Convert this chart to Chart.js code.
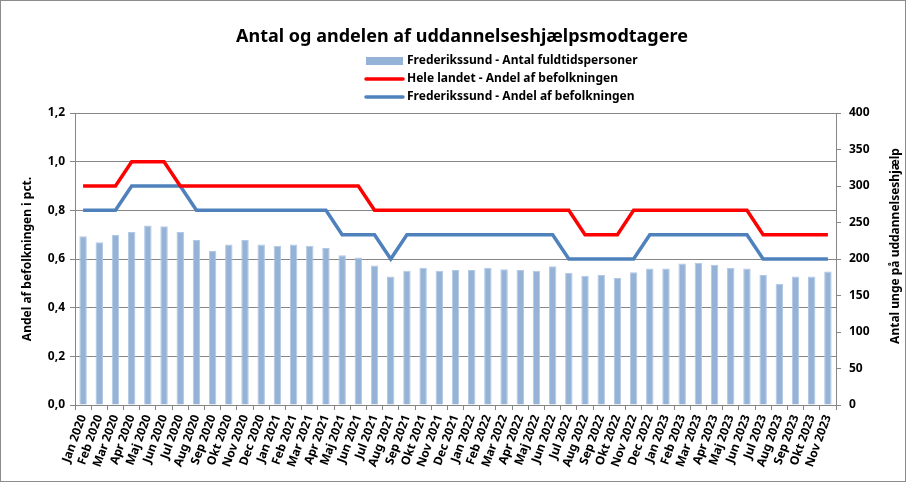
<!DOCTYPE html>
<html>
<head>
    <title>Antal og andelen af uddannelseshjælpsmodtagere</title>
    <meta charset="UTF-8">
    <script src="https://cdn.jsdelivr.net/npm/chart.js"></script>
    <style>
        html, body { margin: 0; padding: 0; background: #fff; }
        #wrap { width: 906px; height: 482px; }
    </style>
</head>
<body>
<div id="wrap"><canvas id="chart"></canvas></div>
<script>
    // månedsetiketter
    var labels = [
        'Jan 2020', 'Feb 2020', 'Mar 2020', 'Apr 2020', 'Maj 2020', 'Jun 2020', 'Jul 2020', 'Aug 2020', 'Sep 2020', 'Okt 2020', 'Nov 2020', 'Dec 2020',
        'Jan 2021', 'Feb 2021', 'Mar 2021', 'Apr 2021', 'Maj 2021', 'Jun 2021', 'Jul 2021', 'Aug 2021', 'Sep 2021', 'Okt 2021', 'Nov 2021', 'Dec 2021',
        'Jan 2022', 'Feb 2022', 'Mar 2022', 'Apr 2022', 'Maj 2022', 'Jun 2022', 'Jul 2022', 'Aug 2022', 'Sep 2022', 'Okt 2022', 'Nov 2022', 'Dec 2022',
        'Jan 2023', 'Feb 2023', 'Mar 2023', 'Apr 2023', 'Maj 2023', 'Jun 2023', 'Jul 2023', 'Aug 2023', 'Sep 2023', 'Okt 2023', 'Nov 2023'
    ];

    // Frederikssund - antal fuldtidspersoner (højre akse)
    var antalFuldtid = [
        231, 223, 233, 237, 246, 245, 237, 226, 211, 220, 226, 220,
        218, 220, 218, 215, 205, 202, 191, 176, 184, 188, 184, 185,
        185, 188, 186, 185, 184, 190, 181, 177, 178, 174, 182, 187,
        187, 194, 195, 192, 188, 187, 178, 166, 176, 176, 183
    ];

    // Hele landet - andel af befolkningen (venstre akse)
    var heleLandet = [
        0.9, 0.9, 0.9, 1.0, 1.0, 1.0, 0.9, 0.9, 0.9, 0.9, 0.9, 0.9,
        0.9, 0.9, 0.9, 0.9, 0.9, 0.9, 0.8, 0.8, 0.8, 0.8, 0.8, 0.8,
        0.8, 0.8, 0.8, 0.8, 0.8, 0.8, 0.8, 0.7, 0.7, 0.7, 0.8, 0.8,
        0.8, 0.8, 0.8, 0.8, 0.8, 0.8, 0.7, 0.7, 0.7, 0.7, 0.7
    ];

    // Frederikssund - andel af befolkningen (venstre akse)
    var frederikssundAndel = [
        0.8, 0.8, 0.8, 0.9, 0.9, 0.9, 0.9, 0.8, 0.8, 0.8, 0.8, 0.8,
        0.8, 0.8, 0.8, 0.8, 0.7, 0.7, 0.7, 0.6, 0.7, 0.7, 0.7, 0.7,
        0.7, 0.7, 0.7, 0.7, 0.7, 0.7, 0.6, 0.6, 0.6, 0.6, 0.6, 0.7,
        0.7, 0.7, 0.7, 0.7, 0.7, 0.7, 0.6, 0.6, 0.6, 0.6, 0.6
    ];

    var rightTitle = 'Antal unge på uddannelseshjælp';

    var FONT = '"Noto Sans", "DejaVu Sans", sans-serif';
    var GRID = '#868686';

    Chart.defaults.color = '#000';
    Chart.defaults.font.family = FONT;

    // titel, forklaring, højre aksetitel og ramme tegnes selv
    var decorPlugin = {
        id: 'decor',
        afterDraw: function (chart) {
            var c = chart.ctx;
            c.save();
            c.strokeStyle = '#8c8c8c';
            c.lineWidth = 1;
            c.strokeRect(0.5, 0.5, chart.width - 1, chart.height - 1);

            c.fillStyle = '#000';
            c.textAlign = 'center';
            c.textBaseline = 'middle';
            c.font = 'bold 18px ' + FONT;
            c.fillText('Antal og andelen af uddannelseshjælpsmodtagere', 462, 37);

            // højre aksetitel læses nedefra og op
            c.save();
            c.translate(896, 246);
            c.rotate(-Math.PI / 2);
            c.font = 'bold 12px ' + FONT;
            c.fillText(rightTitle, 0, 0);
            c.restore();

            var ds = chart.data.datasets;
            var rows = [61, 79, 97];
            c.font = 'bold 12px ' + FONT;
            c.textAlign = 'left';
            for (var i = 0; i < ds.length; i++) {
                var y = rows[i];
                if (ds[i].type === 'bar') {
                    c.fillStyle = ds[i].backgroundColor;
                    c.fillRect(366, y - 4, 37, 8);
                } else {
                    c.strokeStyle = ds[i].borderColor;
                    c.lineWidth = 3.5;
                    c.lineCap = 'round';
                    c.beginPath();
                    c.moveTo(366, y);
                    c.lineTo(403, y);
                    c.stroke();
                }
                c.fillStyle = '#000';
                c.fillText(ds[i].label, 407, y);
            }
            c.restore();
        }
    };

    var ctx = document.getElementById('chart').getContext('2d');
    var chart = new Chart(ctx, {
        data: {
            labels: labels,
            datasets: [
                {
                    type: 'bar',
                    label: 'Frederikssund - Antal fuldtidspersoner',
                    data: antalFuldtid,
                    yAxisID: 'yR',
                    backgroundColor: '#95b3d7',
                    borderColor: '#b3c8e3',
                    borderWidth: 1,
                    barPercentage: 0.46,
                    categoryPercentage: 1,
                    order: 3
                },
                {
                    type: 'line',
                    label: 'Hele landet - Andel af befolkningen',
                    data: heleLandet,
                    yAxisID: 'yL',
                    borderColor: '#ff0000',
                    borderWidth: 3.5,
                    pointRadius: 0,
                    tension: 0,
                    fill: false,
                    order: 1
                },
                {
                    type: 'line',
                    label: 'Frederikssund - Andel af befolkningen',
                    data: frederikssundAndel,
                    yAxisID: 'yL',
                    borderColor: '#4f81bd',
                    borderWidth: 3.5,
                    pointRadius: 0,
                    tension: 0,
                    fill: false,
                    order: 2
                }
            ]
        },
        options: {
            responsive: true,
            maintainAspectRatio: false,
            animation: false,
            layout: { padding: { top: 113, left: 0, right: 0, bottom: 0 } },
            plugins: {
                legend: { display: false },
                title: { display: false },
                tooltip: { enabled: false }
            },
            scales: {
                x: {
                    offset: true,
                    grid: {
                        offset: true,
                        drawOnChartArea: false,
                        drawTicks: true,
                        tickLength: 5,
                        color: GRID
                    },
                    border: { color: GRID },
                    ticks: {
                        autoSkip: false,
                        maxRotation: 70,
                        minRotation: 70,
                        padding: 3,
                        font: { size: 12, weight: 'bold' }
                    },
                    afterFit: function (s) { s.height = 77; }
                },
                yL: {
                    position: 'left',
                    min: 0,
                    max: 1.2,
                    ticks: {
                        stepSize: 0.2,
                        padding: 5,
                        font: { size: 12, weight: 'bold' },
                        callback: function (v) { return v.toFixed(1).replace('.', ','); }
                    },
                    grid: { color: GRID, tickLength: 5 },
                    border: { color: GRID },
                    title: {
                        display: true,
                        text: 'Andel af befolkningen i pct.',
                        padding: { top: 20, bottom: 0 },
                        font: { size: 12, weight: 'bold' }
                    },
                    afterFit: function (s) { s.width = 75; }
                },
                yR: {
                    position: 'right',
                    min: 0,
                    max: 400,
                    ticks: {
                        stepSize: 50,
                        padding: 8,
                        font: { size: 12, weight: 'bold' }
                    },
                    grid: { drawOnChartArea: false, color: GRID, tickLength: 5 },
                    border: { color: GRID },
                    afterFit: function (s) { s.width = 70; }
                }
            }
        },
        plugins: [decorPlugin]
    });
</script>
</body>
</html>
